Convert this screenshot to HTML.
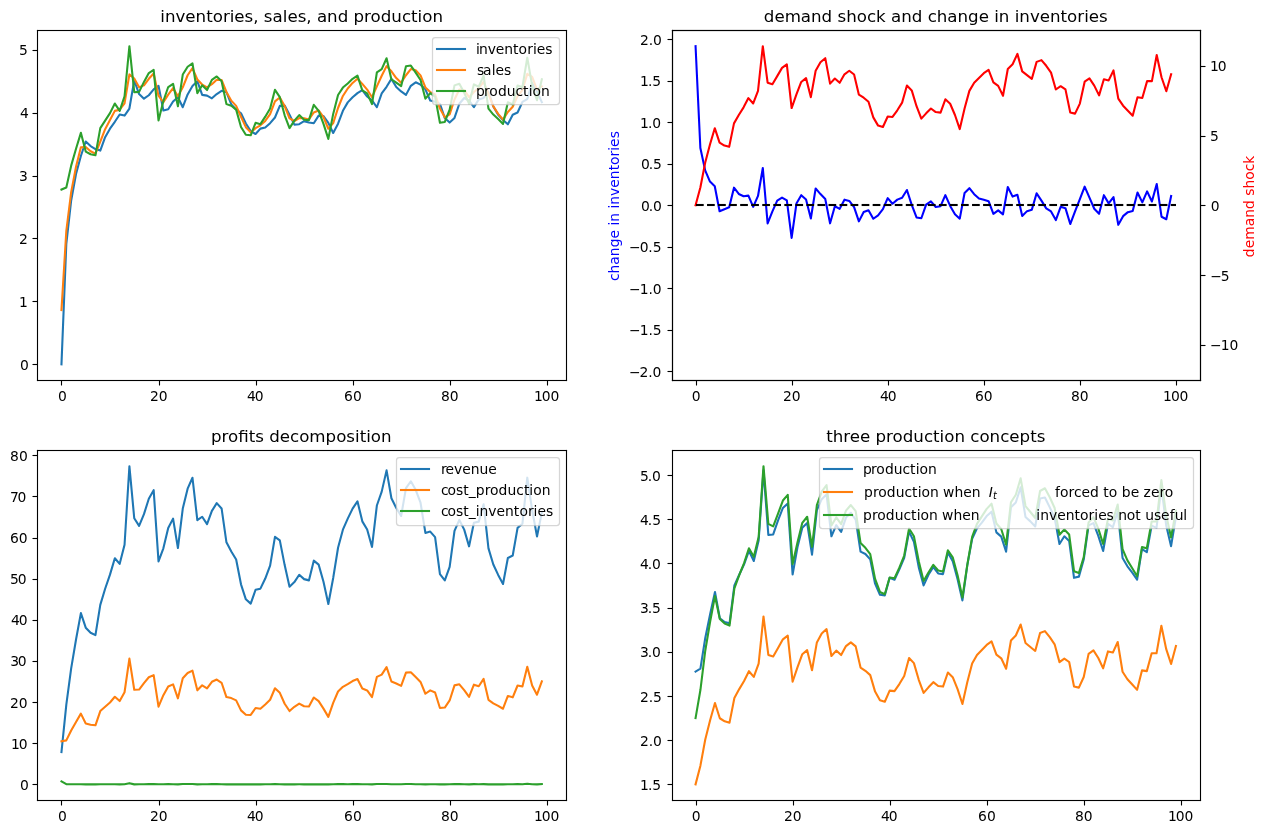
<!DOCTYPE html>
<html lang="en">
<head>
<meta charset="utf-8">
<title>inventories, sales, and production</title>
<style>
html,body{margin:0;padding:0;background:#fff;overflow:hidden}
svg{display:block}
text{font-family:"DejaVu Sans","Liberation Sans",sans-serif;white-space:pre}
.t10{font-size:13.889px}
.t12{font-size:16.667px}
.sr{fill:#000}
.tk{fill:none;stroke:#000;stroke-width:1.111;stroke-linecap:butt}
.ln{fill:none;stroke-width:2.083;stroke-linecap:square;stroke-linejoin:round}
.dr{fill:#000}
.lg{fill:#fff;stroke:#ccc;stroke-width:1.25;opacity:0.8;stroke-linejoin:miter}
</style>
</head>
<body>
<svg width="1268" height="834" viewBox="0 0 1268 834">
<defs><clipPath id="c0"><rect x="37.45" y="30.28" width="528.41" height="350"/></clipPath><clipPath id="c1"><rect x="671.54" y="30.28" width="528.41" height="350"/></clipPath><clipPath id="c2"><rect x="37.45" y="450.28" width="528.41" height="350"/></clipPath><clipPath id="c3"><rect x="671.54" y="450.28" width="528.41" height="350"/></clipPath></defs>
<rect width="1268" height="834" fill="#fff"/>
<path class="tk" d="M61.5 380.5 V385.5"/>
<text class="t10" x="57.9" y="401">0</text>
<path class="tk" d="M159.5 380.5 V385.5"/>
<text class="t10" x="150.07 158.68" y="401">20</text>
<path class="tk" d="M256.5 380.5 V385.5"/>
<text class="t10" x="246.93 254.74" y="401">40</text>
<path class="tk" d="M353.5 380.5 V385.5"/>
<text class="t10" x="344.09 352.9" y="401">60</text>
<path class="tk" d="M450.5 380.5 V385.5"/>
<text class="t10" x="441.06 449.87" y="401">80</text>
<path class="tk" d="M547.5 380.5 V385.5"/>
<text class="t10" x="533.98 541.79 550.58" y="401">100</text>
<path class="tk" d="M37.5 364.5 H32.5"/>
<text class="t10" x="19.99" y="370">0</text>
<path class="tk" d="M37.5 301.5 H32.5"/>
<text class="t10" x="19.02" y="307">1</text>
<path class="tk" d="M37.5 238.5 H32.5"/>
<text class="t10" x="18.99" y="244">2</text>
<path class="tk" d="M37.5 176.5 H32.5"/>
<text class="t10" x="19.04" y="181">3</text>
<path class="tk" d="M37.5 113.5 H32.5"/>
<text class="t10" x="19.91" y="118">4</text>
<path class="tk" d="M37.5 50.5 H32.5"/>
<text class="t10" x="19.09" y="55">5</text>
<path class="ln" stroke="#1f77b4" clip-path="url(#c0)" d="M61.47 364.37 L66.32 243.82 L71.17 200.45 L76.03 173.99 L80.88 156.01 L85.73 141.53 L90.58 146.07 L95.43 149.03 L100.29 150.58 L105.14 137.22 L109.99 128.64 L114.84 121.79 L119.7 114.46 L124.55 115.61 L129.4 108.54 L134.25 80.33 L139.1 94.06 L143.96 98.71 L148.81 95.23 L153.66 89.44 L158.51 85.76 L163.37 110.47 L168.22 109.19 L173.07 101.54 L177.92 97.19 L182.77 107.2 L187.63 94.43 L192.48 85.94 L197.33 81.19 L202.18 94.87 L207.04 95.61 L211.89 98.32 L216.74 94.05 L221.59 90.8 L226.44 92.16 L231.3 104.35 L236.15 109.48 L241 113.27 L245.85 123.49 L250.71 131.12 L255.56 134.03 L260.41 128.63 L265.26 127.44 L270.11 123.18 L274.97 117.5 L279.82 105.9 L284.67 105.6 L289.52 114.83 L294.38 124.66 L299.23 124.22 L304.08 121.23 L308.93 122.55 L313.78 123.24 L318.64 115.59 L323.49 116.09 L328.34 122.87 L333.19 133 L338.05 123.72 L342.9 110.76 L347.75 102.38 L352.6 97.3 L357.46 93.12 L362.31 90.05 L367.16 96.55 L372.01 100.38 L376.86 107.25 L381.72 93.38 L386.57 86.8 L391.42 78.89 L396.27 87.02 L401.13 91.46 L405.98 94.88 L410.83 85.81 L415.68 82.31 L420.53 84.67 L425.39 89.34 L430.24 100.54 L435.09 101.68 L439.94 103.83 L444.8 118.04 L449.65 122.58 L454.5 117.91 L459.35 103.76 L464.2 97.96 L469.06 100.6 L473.91 107.07 L478.76 99.4 L483.61 97.96 L488.47 91.7 L493.32 106.52 L498.17 114.75 L503.02 119.96 L507.87 124.33 L512.73 114.7 L517.58 112.48 L522.43 101.95 L527.28 99.07 L532.14 82.9 L536.99 91.56 L541.84 102.13"/>
<path class="ln" stroke="#ff7f0e" clip-path="url(#c0)" d="M61.47 310.12 L66.32 230.89 L71.17 192.11 L76.03 166.72 L80.88 147.33 L85.73 147.03 L90.58 151.27 L95.43 153.67 L100.29 141.53 L105.14 129.19 L109.99 119.99 L114.84 110.88 L119.7 109.65 L124.55 103.33 L129.4 74.41 L134.25 78.45 L139.1 87.2 L143.96 85.38 L148.81 78.8 L153.66 73.49 L158.51 95.69 L163.37 102.31 L168.22 94.67 L173.07 88.13 L177.92 96.22 L182.77 87.32 L187.63 75.24 L192.48 68.06 L197.33 79.49 L202.18 84.53 L207.04 87.32 L211.89 84.15 L216.74 79.71 L221.59 79.97 L226.44 91.93 L231.3 100.65 L236.15 105.86 L241 116.72 L245.85 127.18 L250.71 132.35 L255.56 128.17 L260.41 125.33 L265.26 120.93 L270.11 114.2 L274.97 101.43 L279.82 97.47 L284.67 106.1 L289.52 118.32 L294.38 121.03 L299.23 118.06 L304.08 118.36 L308.93 119.43 L313.78 112.41 L318.64 110.46 L323.49 117.03 L328.34 128.76 L333.19 123.19 L338.05 108 L342.9 95.96 L347.75 88.5 L352.6 82.94 L357.46 78.71 L362.31 83.89 L367.16 89.57 L372.01 97.28 L376.86 86.34 L381.72 75.72 L386.57 66.15 L391.42 71.33 L396.27 78.11 L401.13 82.76 L405.98 75.26 L410.83 69.07 L415.68 70.2 L420.53 75.36 L425.39 87.43 L430.24 92.06 L435.09 94.46 L439.94 108.58 L444.8 117.37 L449.65 114.4 L454.5 99.54 L459.35 89.57 L464.2 90.22 L469.06 97.17 L473.91 91.97 L478.76 88.18 L483.61 81.81 L488.47 93.84 L493.32 106.32 L498.17 113.85 L503.02 119.64 L507.87 111.92 L512.73 106.76 L517.58 96.1 L522.43 90.03 L527.28 73.83 L532.14 76.9 L536.99 89.64 L541.84 86.34"/>
<path class="ln" stroke="#2ca02c" clip-path="url(#c0)" d="M61.47 189.57 L66.32 187.51 L71.17 165.65 L76.03 148.74 L80.88 132.86 L85.73 151.57 L90.58 154.23 L95.43 155.22 L100.29 128.17 L105.14 120.61 L109.99 113.13 L114.84 103.55 L119.7 110.8 L124.55 96.26 L129.4 46.19 L134.25 92.18 L139.1 91.86 L143.96 81.9 L148.81 73.01 L153.66 69.81 L158.51 120.41 L163.37 101.03 L168.22 87.02 L173.07 83.78 L177.92 106.23 L182.77 74.55 L187.63 66.74 L192.48 63.32 L197.33 93.16 L202.18 85.27 L207.04 90.03 L211.89 79.88 L216.74 76.46 L221.59 81.34 L226.44 104.12 L231.3 105.79 L236.15 109.64 L241 126.94 L245.85 134.82 L250.71 135.26 L255.56 122.77 L260.41 124.14 L265.26 116.66 L270.11 108.53 L274.97 89.83 L279.82 97.17 L284.67 115.33 L289.52 128.14 L294.38 120.6 L299.23 115.07 L304.08 119.68 L308.93 120.12 L313.78 104.77 L318.64 110.95 L323.49 123.81 L328.34 138.9 L333.19 113.91 L338.05 95.04 L342.9 87.58 L347.75 83.42 L352.6 78.76 L357.46 75.64 L362.31 90.39 L367.16 93.4 L372.01 104.15 L376.86 72.47 L381.72 69.13 L386.57 58.24 L391.42 79.46 L396.27 82.55 L401.13 86.19 L405.98 66.19 L410.83 65.57 L415.68 72.56 L420.53 80.03 L425.39 98.64 L430.24 93.19 L435.09 96.61 L439.94 122.78 L444.8 121.91 L449.65 109.74 L454.5 85.38 L459.35 83.77 L464.2 92.86 L469.06 103.64 L473.91 84.31 L478.76 86.74 L483.61 75.55 L488.47 108.65 L493.32 114.56 L498.17 119.06 L503.02 124.02 L507.87 102.29 L512.73 104.54 L517.58 85.56 L522.43 87.15 L527.28 57.66 L532.14 85.56 L536.99 100.22 L541.84 79.3"/>
<rect class="sr" x="36.944" y="29.945" width="1.111" height="351.111"/>
<rect class="sr" x="565.944" y="29.945" width="1.111" height="351.111"/>
<rect class="sr" x="36.944" y="379.945" width="530.111" height="1.111"/>
<rect class="sr" x="36.944" y="29.945" width="530.111" height="1.111"/>
<text class="t12" x="301.65" y="22" text-anchor="middle">inventories, sales, and production</text>
<rect class="lg" x="432.5" y="37.5" width="127" height="67" rx="2.78"/>
<rect fill="#1f77b4" x="435.958" y="47.958" width="30.084" height="2.083"/>
<rect fill="#ff7f0e" x="435.958" y="68.958" width="30.084" height="2.083"/>
<rect fill="#2ca02c" x="435.958" y="89.958" width="30.084" height="2.083"/>
<text class="t10" x="476 479 487.68 495.86 504.35 513.07 518.62 527.19 532.97 536.75 545.28" y="54">inventories</text>
<text class="t10" x="476.96 483.1 491.72 495.58 504.03" y="75">sales</text>
<text class="t10" x="476 484.12 489.32 497.89 506.7 515.5 523.12 528.68 532.46 541.1" y="96">production</text>
<path class="tk" d="M696.5 380.5 V385.5"/>
<text class="t10" x="691.84" y="401">0</text>
<path class="tk" d="M792.5 380.5 V385.5"/>
<text class="t10" x="783.06 791.67" y="401">20</text>
<path class="tk" d="M888.5 380.5 V385.5"/>
<text class="t10" x="880.04 887.65" y="401">40</text>
<path class="tk" d="M984.5 380.5 V385.5"/>
<text class="t10" x="975.01 983.82" y="401">60</text>
<path class="tk" d="M1080.5 380.5 V385.5"/>
<text class="t10" x="1071.12 1079.77" y="401">80</text>
<path class="tk" d="M1176.5 380.5 V385.5"/>
<text class="t10" x="1163.02 1170.91 1179.62" y="401">100</text>
<path class="tk" d="M672.5 371.5 H667.5"/>
<text class="t10" x="629.05 639.55 648.34 652.59" y="377">−2.0</text>
<path class="tk" d="M672.5 330.5 H667.5"/>
<text class="t10" x="629.06 639.64 648.55 652.8" y="335">−1.5</text>
<path class="tk" d="M672.5 288.5 H667.5"/>
<text class="t10" x="629.02 639.68 648.55 652.76" y="294">−1.0</text>
<path class="tk" d="M672.5 247.5 H667.5"/>
<text class="t10" x="629.04 639.66 648.37 652.74" y="252">−0.5</text>
<path class="tk" d="M672.5 205.5 H667.5"/>
<text class="t10" x="640.93 648.74 653.01" y="211">0.0</text>
<path class="tk" d="M672.5 164.5 H667.5"/>
<text class="t10" x="640.93 648.74 653.05" y="169">0.5</text>
<path class="tk" d="M672.5 122.5 H667.5"/>
<text class="t10" x="640.07 647.92 652.15" y="128">1.0</text>
<path class="tk" d="M672.5 81.5 H667.5"/>
<text class="t10" x="640.05 647.9 652.29" y="86">1.5</text>
<path class="tk" d="M672.5 39.5 H667.5"/>
<text class="t10" x="640.1 648.71 653.02" y="45">2.0</text>
<text class="t10" x="619" y="206.09" text-anchor="middle" fill="#0000ff" transform="rotate(-90 619 206.09)">change in inventories</text>
<path class="ln" stroke="#0000ff" clip-path="url(#c1)" d="M695.56 46.19 L700.36 148.03 L705.17 170.36 L709.97 181.55 L714.77 186.18 L719.58 211.26 L724.38 209.19 L729.19 207.32 L733.99 187.65 L738.79 193.96 L743.6 196.23 L748.4 195.61 L753.2 206.8 L758.01 195.95 L762.81 168.04 L767.62 223.4 L772.42 211.43 L777.22 200.68 L782.03 197.64 L786.83 200.43 L791.63 237.89 L796.44 203.59 L801.24 195.18 L806.04 199.54 L810.85 218.49 L815.65 188.43 L820.46 194.07 L825.26 199.02 L830.06 223.33 L834.87 206.26 L839.67 208.85 L844.47 199.65 L849.28 200.98 L854.08 207.08 L858.89 221.36 L863.69 212.06 L868.49 210.27 L873.3 218.77 L878.1 215.36 L882.9 209.12 L887.71 198.16 L892.51 203.71 L897.32 199.65 L902.12 197.79 L906.92 189.97 L911.73 204.88 L916.53 217.46 L921.33 218.25 L926.14 204.71 L930.94 201.34 L935.75 207.02 L940.55 206.19 L945.35 195.19 L950.16 205.93 L954.96 214.23 L959.76 218.66 L964.57 193.02 L969.37 188.18 L974.18 194.22 L978.98 198.57 L983.78 199.77 L988.59 201.23 L993.39 213.86 L998.19 210.33 L1003 214.35 L1007.8 186.97 L1012.6 196.59 L1017.41 194.84 L1022.21 216.01 L1027.02 211.14 L1031.82 209.8 L1036.62 193.31 L1041.43 200.65 L1046.23 208.4 L1051.03 211.44 L1055.84 220.06 L1060.64 206.78 L1065.45 208.13 L1070.25 224.03 L1075.05 211.27 L1079.86 199.12 L1084.66 186.6 L1089.46 197.63 L1094.27 208.76 L1099.07 213.81 L1103.88 195.16 L1108.68 203.38 L1113.48 197.02 L1118.29 224.84 L1123.09 216.15 L1127.89 212.15 L1132.7 211.06 L1137.5 192.57 L1142.31 202.35 L1147.11 191.38 L1151.91 201.48 L1156.72 183.94 L1161.52 216.71 L1166.32 219.23 L1171.13 196"/>
<rect class="sr" x="671.944" y="29.945" width="1.111" height="351.111"/>
<rect class="sr" x="1199.945" y="29.945" width="1.111" height="351.111"/>
<rect class="sr" x="671.944" y="379.945" width="529.111" height="1.111"/>
<rect class="sr" x="671.944" y="29.945" width="529.111" height="1.111"/>
<text class="t12" x="935.75" y="22" text-anchor="middle">demand shock and change in inventories</text>
<path class="tk" d="M61.5 800.5 V805.5"/>
<text class="t10" x="57.9" y="821">0</text>
<path class="tk" d="M159.5 800.5 V805.5"/>
<text class="t10" x="150.07 158.68" y="821">20</text>
<path class="tk" d="M256.5 800.5 V805.5"/>
<text class="t10" x="246.93 254.74" y="821">40</text>
<path class="tk" d="M353.5 800.5 V805.5"/>
<text class="t10" x="344.09 352.9" y="821">60</text>
<path class="tk" d="M450.5 800.5 V805.5"/>
<text class="t10" x="441.06 449.87" y="821">80</text>
<path class="tk" d="M547.5 800.5 V805.5"/>
<text class="t10" x="533.98 541.79 550.58" y="821">100</text>
<path class="tk" d="M37.5 784.5 H32.5"/>
<text class="t10" x="19.99" y="790">0</text>
<path class="tk" d="M37.5 743.5 H32.5"/>
<text class="t10" x="10.99 18.77" y="749">10</text>
<path class="tk" d="M37.5 702.5 H32.5"/>
<text class="t10" x="10.07 18.69" y="708">20</text>
<path class="tk" d="M37.5 661.5 H32.5"/>
<text class="t10" x="10.15 17.69" y="666">30</text>
<path class="tk" d="M37.5 620.5 H32.5"/>
<text class="t10" x="10.9 18.72" y="625">40</text>
<path class="tk" d="M37.5 579.5 H32.5"/>
<text class="t10" x="9.91 17.73" y="584">50</text>
<path class="tk" d="M37.5 538.5 H32.5"/>
<text class="t10" x="10.01 18.83" y="543">60</text>
<path class="tk" d="M37.5 496.5 H32.5"/>
<text class="t10" x="9.97 17.59" y="502">70</text>
<path class="tk" d="M37.5 455.5 H32.5"/>
<text class="t10" x="10.06 18.88" y="461">80</text>
<path class="ln" stroke="#1f77b4" clip-path="url(#c2)" d="M61.47 751.99 L66.32 704.59 L71.17 668.32 L76.03 639.5 L80.88 613.14 L85.73 627.67 L90.58 632.71 L95.43 635.13 L100.29 604.88 L105.14 588.73 L109.99 574.63 L114.84 558.2 L119.7 563.84 L124.55 544.73 L129.4 466.19 L134.25 518.25 L139.1 525.87 L143.96 514.13 L148.81 498.7 L153.66 490.14 L158.51 561.43 L163.37 548.35 L168.22 527.93 L173.07 518.62 L177.92 548.06 L182.77 508.57 L187.63 488.65 L192.48 477.8 L197.33 520.21 L202.18 516.75 L207.04 524.14 L211.89 510.91 L216.74 503.15 L221.59 508.44 L226.44 542.29 L231.3 551.44 L236.15 559.54 L241 584.32 L245.85 599.34 L250.71 603.64 L255.56 589.76 L260.41 588.67 L265.26 578.54 L270.11 565.62 L274.97 536.89 L279.82 540.36 L284.67 565.09 L289.52 586.65 L294.38 582.1 L299.23 574.76 L304.08 579.12 L308.93 580.38 L313.78 560.65 L318.64 564.65 L323.49 581.74 L328.34 604.03 L333.19 578 L338.05 547.77 L342.9 529.67 L347.75 518.6 L352.6 508.61 L357.46 501.34 L362.31 521.36 L367.16 529.56 L372.01 546.96 L376.86 505.52 L381.72 491.63 L386.57 470.38 L391.42 498.28 L396.27 507.94 L401.13 516.03 L405.98 488.1 L410.83 481.24 L415.68 489.84 L420.53 502.71 L425.39 532.89 L430.24 531.61 L435.09 537.13 L439.94 574.05 L444.8 580.32 L449.65 566.88 L454.5 530.87 L459.35 519.95 L464.2 529.62 L469.06 546.37 L473.91 522.74 L478.76 521.63 L483.61 504.24 L488.47 548.4 L493.32 564.54 L498.17 574.89 L503.02 584.02 L507.87 557.95 L512.73 555.55 L517.58 527.84 L522.43 523.76 L527.28 477.67 L532.14 509.95 L536.99 536.42 L541.84 512.42"/>
<path class="ln" stroke="#ff7f0e" clip-path="url(#c2)" d="M61.47 741.25 L66.32 740.36 L71.17 730.42 L76.03 722.04 L80.88 713.64 L85.73 723.48 L90.58 724.83 L95.43 725.32 L100.29 711.06 L105.14 706.8 L109.99 702.46 L114.84 696.75 L119.7 701.09 L124.55 692.27 L129.4 658.54 L134.25 689.72 L139.1 689.52 L143.96 683.13 L148.81 677.25 L153.66 675.1 L158.51 706.68 L163.37 695.21 L168.22 686.44 L173.07 684.35 L177.92 698.37 L182.77 678.29 L187.63 673.02 L192.48 670.66 L197.33 690.34 L202.18 685.32 L207.04 688.36 L211.89 681.81 L216.74 679.55 L221.59 682.76 L226.44 697.09 L231.3 698.1 L236.15 700.4 L241 710.37 L245.85 714.7 L250.71 714.94 L255.56 708.02 L260.41 708.8 L265.26 704.52 L270.11 699.74 L274.97 688.23 L279.82 692.84 L284.67 703.75 L289.52 711.04 L294.38 706.79 L299.23 703.6 L304.08 706.26 L308.93 706.51 L313.78 697.49 L318.64 701.18 L323.49 708.61 L328.34 716.9 L333.19 702.92 L338.05 691.51 L342.9 686.8 L347.75 684.12 L352.6 681.07 L357.46 679.01 L362.31 688.59 L367.16 690.48 L372.01 697.11 L376.86 676.89 L381.72 674.65 L386.57 667.13 L391.42 681.54 L396.27 683.55 L401.13 685.9 L405.98 672.64 L410.83 672.21 L415.68 676.96 L420.53 681.91 L425.39 693.74 L430.24 690.36 L435.09 692.49 L439.94 708.03 L444.8 707.54 L449.65 700.46 L454.5 685.39 L459.35 684.34 L464.2 690.15 L469.06 696.8 L473.91 684.69 L478.76 686.26 L483.61 678.95 L488.47 699.82 L493.32 703.3 L498.17 705.91 L503.02 708.73 L507.87 695.98 L512.73 697.35 L517.58 685.5 L522.43 686.53 L527.28 666.73 L532.14 685.5 L536.99 694.72 L541.84 681.43"/>
<path class="ln" stroke="#2ca02c" clip-path="url(#c2)" d="M61.47 781.32 L66.32 784.2 L71.17 784.3 L76.03 784.32 L80.88 784.29 L85.73 784.34 L90.58 784.34 L95.43 784.35 L100.29 784.29 L105.14 784.3 L109.99 784.29 L114.84 784.25 L119.7 784.35 L124.55 784.21 L129.4 783.16 L134.25 784.37 L139.1 784.32 L143.96 784.19 L148.81 784.09 L153.66 784.11 L158.51 784.27 L163.37 784.3 L168.22 784.15 L173.07 784.18 L177.92 784.37 L182.77 783.96 L187.63 783.99 L192.48 784.04 L197.33 784.37 L202.18 784.26 L207.04 784.3 L211.89 784.16 L216.74 784.16 L221.59 784.25 L226.44 784.37 L231.3 784.36 L236.15 784.36 L241 784.36 L245.85 784.36 L250.71 784.37 L255.56 784.34 L260.41 784.36 L265.26 784.33 L270.11 784.29 L274.97 784.1 L279.82 784.3 L284.67 784.37 L289.52 784.36 L294.38 784.36 L299.23 784.33 L304.08 784.36 L308.93 784.36 L313.78 784.25 L318.64 784.34 L323.49 784.37 L328.34 784.34 L333.19 784.27 L338.05 784.11 L342.9 784.14 L347.75 784.17 L352.6 784.16 L357.46 784.16 L362.31 784.33 L367.16 784.32 L372.01 784.36 L376.86 783.92 L381.72 784.05 L386.57 783.93 L391.42 784.31 L396.27 784.29 L401.13 784.29 L405.98 783.97 L410.83 784.08 L415.68 784.22 L420.53 784.28 L425.39 784.37 L430.24 784.3 L435.09 784.32 L439.94 784.35 L444.8 784.37 L449.65 784.3 L454.5 784.02 L459.35 784.16 L464.2 784.31 L469.06 784.36 L473.91 784.14 L478.76 784.24 L483.61 784.1 L488.47 784.37 L493.32 784.37 L498.17 784.37 L503.02 784.37 L507.87 784.21 L512.73 784.31 L517.58 784.09 L522.43 784.22 L527.28 783.71 L532.14 784.33 L536.99 784.37 L541.84 784.11"/>
<rect class="sr" x="36.944" y="449.945" width="1.111" height="351.111"/>
<rect class="sr" x="565.944" y="449.945" width="1.111" height="351.111"/>
<rect class="sr" x="36.944" y="799.944" width="530.111" height="1.111"/>
<rect class="sr" x="36.944" y="449.945" width="530.111" height="1.111"/>
<text class="t12" x="301.25" y="442" text-anchor="middle">profits decomposition</text>
<rect class="lg" x="396.5" y="457.5" width="163" height="68" rx="2.78"/>
<rect fill="#1f77b4" x="399.958" y="467.958" width="30.084" height="2.083"/>
<rect fill="#ff7f0e" x="399.958" y="488.958" width="30.084" height="2.083"/>
<rect fill="#2ca02c" x="399.958" y="509.958" width="30.084" height="2.083"/>
<text class="t10" x="441 445.59 454.12 462.34 470.87 479.39 488.27" y="474">revenue</text>
<text class="t10" x="440.96 447.55 456.03 463.34 468.74 475.72 484.69 490.08 498.57 507.38 516.18 523.92 529.36 533.18 541.74" y="495">cost_production</text>
<text class="t10" x="440.96 447.55 456.03 463.34 468.74 475.72 479.42 488.36 496.58 505.11 513.87 519.38 527.95 533.55 537.43 545.94" y="516">cost_inventories</text>
<path class="tk" d="M696.5 800.5 V805.5"/>
<text class="t10" x="691.84" y="821">0</text>
<path class="tk" d="M793.5 800.5 V805.5"/>
<text class="t10" x="784.03 792.68" y="821">20</text>
<path class="tk" d="M890.5 800.5 V805.5"/>
<text class="t10" x="880.9 888.71" y="821">40</text>
<path class="tk" d="M987.5 800.5 V805.5"/>
<text class="t10" x="978.07 986.88" y="821">60</text>
<path class="tk" d="M1084.5 800.5 V805.5"/>
<text class="t10" x="1075.01 1083.82" y="821">80</text>
<path class="tk" d="M1181.5 800.5 V805.5"/>
<text class="t10" x="1167.98 1175.79 1184.58" y="821">100</text>
<path class="tk" d="M672.5 784.5 H667.5"/>
<text class="t10" x="640.05 647.9 652.29" y="790">1.5</text>
<path class="tk" d="M672.5 740.5 H667.5"/>
<text class="t10" x="640.1 648.71 653.02" y="746">2.0</text>
<path class="tk" d="M672.5 696.5 H667.5"/>
<text class="t10" x="640.03 648.84 653.07" y="702">2.5</text>
<path class="tk" d="M672.5 652.5 H667.5"/>
<text class="t10" x="640.1 647.79 652.06" y="657">3.0</text>
<path class="tk" d="M672.5 608.5 H667.5"/>
<text class="t10" x="640.01 647.7 652.09" y="613">3.5</text>
<path class="tk" d="M672.5 563.5 H667.5"/>
<text class="t10" x="640.02 647.83 652.06" y="569">4.0</text>
<path class="tk" d="M672.5 519.5 H667.5"/>
<text class="t10" x="639.89 647.7 652.13" y="525">4.5</text>
<path class="tk" d="M672.5 475.5 H667.5"/>
<text class="t10" x="640 647.85 652.08" y="481">5.0</text>
<path class="ln" stroke="#1f77b4" clip-path="url(#c3)" d="M695.56 671.58 L700.41 668.69 L705.26 638.01 L710.12 614.27 L714.97 591.99 L719.82 618.24 L724.67 621.98 L729.53 623.37 L734.38 585.41 L739.23 574.8 L744.08 564.3 L748.93 550.85 L753.79 561.03 L758.64 540.62 L763.49 470.35 L768.34 534.89 L773.2 534.44 L778.05 520.46 L782.9 507.98 L787.75 503.5 L792.6 574.51 L797.46 547.31 L802.31 527.65 L807.16 523.11 L812.01 554.61 L816.87 510.15 L821.72 499.19 L826.57 494.38 L831.42 536.27 L836.27 525.2 L841.13 531.87 L845.98 517.63 L850.83 512.82 L855.68 519.67 L860.54 551.64 L865.39 553.99 L870.24 559.4 L875.09 583.68 L879.94 594.73 L884.8 595.36 L889.65 577.83 L894.5 579.75 L899.35 569.25 L904.21 557.84 L909.06 531.6 L913.91 541.9 L918.76 567.39 L923.61 585.37 L928.47 574.77 L933.32 567.02 L938.17 573.48 L943.02 574.1 L947.88 552.56 L952.73 561.24 L957.58 579.28 L962.43 600.47 L967.28 565.39 L972.14 538.91 L976.99 528.43 L981.84 522.6 L986.69 516.06 L991.55 511.68 L996.4 532.38 L1001.25 536.6 L1006.1 551.69 L1010.96 507.22 L1015.81 502.55 L1020.66 487.26 L1025.51 517.05 L1030.36 521.37 L1035.22 526.48 L1040.07 498.42 L1044.92 497.54 L1049.77 507.36 L1054.63 517.84 L1059.48 543.95 L1064.33 536.31 L1069.18 541.11 L1074.03 577.84 L1078.89 576.62 L1083.74 559.53 L1088.59 525.35 L1093.44 523.09 L1098.3 535.85 L1103.15 550.97 L1108 523.84 L1112.85 527.26 L1117.7 511.55 L1122.56 558.01 L1127.41 566.3 L1132.26 572.62 L1137.11 579.58 L1141.97 549.08 L1146.82 552.24 L1151.67 525.61 L1156.52 527.84 L1161.37 486.45 L1166.23 525.61 L1171.08 546.17 L1175.93 516.82"/>
<path class="ln" stroke="#ff7f0e" clip-path="url(#c3)" d="M695.56 784.37 L700.41 765.67 L705.26 739.46 L710.12 720.16 L714.97 703.01 L719.82 718.25 L724.67 721.34 L729.53 722.67 L734.38 697.93 L739.23 689.09 L744.08 680.99 L748.93 671.2 L753.79 676.87 L758.64 663.61 L763.49 616.43 L768.34 654.92 L773.2 656.54 L778.05 648 L782.9 639.31 L787.75 635.56 L792.6 681.73 L797.46 667.3 L802.31 654.19 L807.16 650.14 L812.01 670.24 L816.87 642.41 L821.72 633.42 L826.57 629.08 L831.42 655.96 L836.27 650.58 L841.13 655.07 L845.98 646.09 L850.83 642.33 L855.68 646.38 L860.54 667.59 L865.39 670.83 L870.24 675.1 L875.09 691.59 L879.94 700.28 L884.8 701.76 L889.65 690.64 L894.5 691.15 L899.35 684.08 L904.21 675.98 L909.06 657.94 L913.91 663.1 L918.76 679.81 L923.61 692.92 L928.47 687.32 L933.32 682.17 L938.17 686 L943.02 686.59 L947.88 672.52 L952.73 677.16 L957.58 689.09 L962.43 703.96 L967.28 682.32 L972.14 663.61 L976.99 654.92 L981.84 649.92 L986.69 644.91 L991.55 641.45 L996.4 654.63 L1001.25 658.31 L1006.1 668.77 L1010.96 640.49 L1015.81 635.49 L1020.66 624.51 L1025.51 643 L1030.36 646.97 L1035.22 650.95 L1040.07 632.98 L1044.92 631.14 L1049.77 637.11 L1054.63 644.32 L1059.48 662.14 L1064.33 658.68 L1069.18 661.99 L1074.03 686.44 L1078.89 687.62 L1083.74 677.01 L1088.59 653.89 L1093.44 650.43 L1098.3 658.02 L1103.15 668.33 L1108 651.39 L1112.85 652.57 L1117.7 642.04 L1122.56 671.71 L1127.41 679.22 L1132.26 684.53 L1137.11 689.83 L1141.97 670.39 L1146.82 671.12 L1151.67 653.31 L1156.52 653.31 L1161.37 625.69 L1166.23 649.18 L1171.08 663.91 L1175.93 646.09"/>
<path class="ln" stroke="#2ca02c" clip-path="url(#c3)" d="M695.56 718.1 L700.41 690.05 L705.26 650.73 L710.12 621.79 L714.97 596.06 L719.82 618.92 L724.67 623.56 L729.53 625.55 L734.38 588.43 L739.23 575.18 L744.08 563.03 L748.93 548.34 L753.79 556.85 L758.64 536.97 L763.49 466.19 L768.34 523.93 L773.2 526.36 L778.05 513.55 L782.9 500.52 L787.75 494.88 L792.6 564.14 L797.46 542.49 L802.31 522.83 L807.16 516.75 L812.01 546.91 L816.87 505.16 L821.72 491.68 L826.57 485.16 L831.42 525.48 L836.27 517.42 L841.13 524.15 L845.98 510.68 L850.83 505.05 L855.68 511.12 L860.54 542.93 L865.39 547.79 L870.24 554.2 L875.09 578.94 L879.94 591.97 L884.8 594.18 L889.65 577.5 L894.5 578.27 L899.35 567.67 L904.21 555.52 L909.06 528.46 L913.91 536.19 L918.76 561.26 L923.61 580.92 L928.47 572.53 L933.32 564.8 L938.17 570.54 L943.02 571.43 L947.88 550.33 L952.73 557.29 L957.58 575.18 L962.43 597.49 L967.28 565.02 L972.14 536.97 L976.99 523.93 L981.84 516.42 L986.69 508.91 L991.55 503.72 L996.4 523.49 L1001.25 529.01 L1006.1 544.7 L1010.96 502.28 L1015.81 494.77 L1020.66 478.32 L1025.51 506.04 L1030.36 512 L1035.22 517.97 L1040.07 491.02 L1044.92 488.26 L1049.77 497.2 L1054.63 508.03 L1059.48 534.76 L1064.33 529.57 L1069.18 534.54 L1074.03 571.2 L1078.89 572.97 L1083.74 557.07 L1088.59 522.39 L1093.44 517.19 L1098.3 528.57 L1103.15 544.03 L1108 518.63 L1112.85 520.4 L1117.7 504.6 L1122.56 549.11 L1127.41 560.38 L1132.26 568.33 L1137.11 576.29 L1141.97 547.13 L1146.82 548.23 L1151.67 521.5 L1156.52 521.5 L1161.37 480.08 L1166.23 515.32 L1171.08 537.41 L1175.93 510.68"/>
<rect class="sr" x="671.944" y="449.945" width="1.111" height="351.111"/>
<rect class="sr" x="1199.945" y="449.945" width="1.111" height="351.111"/>
<rect class="sr" x="671.944" y="799.944" width="529.111" height="1.111"/>
<rect class="sr" x="671.944" y="449.945" width="529.111" height="1.111"/>
<text class="t12" x="935.75" y="442" text-anchor="middle">three production concepts</text>
<rect class="lg" x="819.5" y="457.5" width="374" height="71" rx="2.78"/>
<rect fill="#1f77b4" x="822.958" y="467.958" width="30.084" height="2.083"/>
<rect fill="#ff7f0e" x="822.958" y="490.958" width="30.084" height="2.083"/>
<rect fill="#2ca02c" x="822.958" y="513.958" width="30.084" height="2.083"/>
<text class="t10" x="863 871.12 876.32 884.89 893.7 902.5 910.12 915.68 919.46 928.1" y="474">production</text>
<text class="t10" y="497" xml:space="preserve"><tspan x="864 872.92 878.36 886.85 895.66 904.5 912.08 917.64 921.46 929.9 938.5 943.07 954.41 963.21 971.74">production when</tspan><tspan> </tspan><tspan x="988.7" font-style="oblique">I</tspan><tspan x="993" y="499.3" font-size="9.72" font-style="oblique">t</tspan><tspan y="497"> </tspan><tspan x="1055 1059.88 1068.6 1073.93 1081.55 1090.1 1098.73 1103.3 1108.83 1117.08 1121.64 1130.66 1138.83 1143.59 1150.89 1159.38 1164.81" y="497">forced to be zero</tspan></text>
<text class="t10" x="863 871.92 877.36 885.85 894.66 903.5 911.08 916.64 920.46 928.9 937.5 942.07 953.41 962.21 970.74 979.38 983.78 988.2 992.61 997.02 1001.44 1005.84 1010.25 1014.66 1019.08 1023.48 1027.89 1032.3 1036.32 1040.36 1049.04 1057.18 1065.87 1074.55 1079.94 1088.59 1094.29 1098.19 1106.56 1114.16 1118.16 1126.8 1135.36 1141.3 1145.18 1153.9 1161.12 1169.83 1174.66 1183.3" y="520" xml:space="preserve">production when             inventories not useful</text>
<path class="tk" d="M1200.5 345.5 H1205.5"/>
<text class="t10" x="1210.02 1220.65 1229.43" y="350">−10</text>
<path class="tk" d="M1200.5 275.5 H1205.5"/>
<text class="t10" x="1210.16 1220.63" y="281">−5</text>
<path class="tk" d="M1200.5 205.5 H1205.5"/>
<text class="t10" x="1210.86" y="211">0</text>
<path class="tk" d="M1200.5 136.5 H1205.5"/>
<text class="t10" x="1210.02" y="141">5</text>
<path class="tk" d="M1200.5 66.5 H1205.5"/>
<text class="t10" x="1210.01 1217.78" y="71">10</text>
<text class="t10" x="1254" y="206.39" text-anchor="middle" fill="#ff0000" transform="rotate(-90 1254 206.39)">demand shock</text>
<path class="ln" stroke="#ff0000" clip-path="url(#c1)" d="M695.56 205.28 L700.36 187.56 L705.17 162.73 L709.97 144.46 L714.77 128.2 L719.58 142.64 L724.38 145.57 L729.19 146.83 L733.99 123.39 L738.79 115.02 L743.6 107.35 L748.4 98.07 L753.2 103.44 L758.01 90.89 L762.81 46.19 L767.62 82.66 L772.42 84.19 L777.22 76.1 L782.03 67.87 L786.83 64.31 L791.63 108.05 L796.44 94.37 L801.24 81.96 L806.04 78.12 L810.85 97.16 L815.65 70.8 L820.46 62.29 L825.26 58.17 L830.06 83.63 L834.87 78.54 L839.67 82.8 L844.47 74.29 L849.28 70.73 L854.08 74.56 L858.89 94.65 L863.69 97.72 L868.49 101.77 L873.3 117.39 L878.1 125.62 L882.9 127.02 L887.71 116.49 L892.51 116.97 L897.32 110.28 L902.12 102.61 L906.92 85.52 L911.73 90.4 L916.53 106.23 L921.33 118.65 L926.14 113.35 L930.94 108.46 L935.75 112.09 L940.55 112.65 L945.35 99.33 L950.16 103.72 L954.96 115.02 L959.76 129.11 L964.57 108.6 L969.37 90.89 L974.18 82.66 L978.98 77.91 L983.78 73.17 L988.59 69.89 L993.39 82.38 L998.19 85.86 L1003 95.77 L1007.8 68.98 L1012.6 64.24 L1017.41 53.85 L1022.21 71.36 L1027.02 75.12 L1031.82 78.89 L1036.62 61.87 L1041.43 60.13 L1046.23 65.78 L1051.03 72.61 L1055.84 89.49 L1060.64 86.21 L1065.45 89.35 L1070.25 112.51 L1075.05 113.63 L1079.86 103.58 L1084.66 81.68 L1089.46 78.4 L1094.27 85.59 L1099.07 95.35 L1103.88 79.31 L1108.68 80.42 L1113.48 70.45 L1118.29 98.56 L1123.09 105.67 L1127.89 110.7 L1132.7 115.72 L1137.5 97.3 L1142.31 98 L1147.11 81.12 L1151.91 81.12 L1156.72 54.96 L1161.52 77.22 L1166.32 91.17 L1171.13 74.29"/>
<g clip-path="url(#c1)"><rect class="dr" x="696" y="203.958" width="7.708" height="2.083"/><rect class="dr" x="707.042" y="203.958" width="7.708" height="2.083"/><rect class="dr" x="718.083" y="203.958" width="7.708" height="2.083"/><rect class="dr" x="729.125" y="203.958" width="7.708" height="2.083"/><rect class="dr" x="740.167" y="203.958" width="7.708" height="2.083"/><rect class="dr" x="751.208" y="203.958" width="7.708" height="2.083"/><rect class="dr" x="762.25" y="203.958" width="7.708" height="2.083"/><rect class="dr" x="773.292" y="203.958" width="7.708" height="2.083"/><rect class="dr" x="784.333" y="203.958" width="7.708" height="2.083"/><rect class="dr" x="795.375" y="203.958" width="7.708" height="2.083"/><rect class="dr" x="806.417" y="203.958" width="7.708" height="2.083"/><rect class="dr" x="817.458" y="203.958" width="7.708" height="2.083"/><rect class="dr" x="828.5" y="203.958" width="7.708" height="2.083"/><rect class="dr" x="839.542" y="203.958" width="7.708" height="2.083"/><rect class="dr" x="850.583" y="203.958" width="7.708" height="2.083"/><rect class="dr" x="861.625" y="203.958" width="7.708" height="2.083"/><rect class="dr" x="872.667" y="203.958" width="7.708" height="2.083"/><rect class="dr" x="883.708" y="203.958" width="7.708" height="2.083"/><rect class="dr" x="894.75" y="203.958" width="7.708" height="2.083"/><rect class="dr" x="905.792" y="203.958" width="7.708" height="2.083"/><rect class="dr" x="916.833" y="203.958" width="7.708" height="2.083"/><rect class="dr" x="927.875" y="203.958" width="7.708" height="2.083"/><rect class="dr" x="938.917" y="203.958" width="7.708" height="2.083"/><rect class="dr" x="949.958" y="203.958" width="7.708" height="2.083"/><rect class="dr" x="961" y="203.958" width="7.708" height="2.083"/><rect class="dr" x="972.042" y="203.958" width="7.708" height="2.083"/><rect class="dr" x="983.083" y="203.958" width="7.708" height="2.083"/><rect class="dr" x="994.125" y="203.958" width="7.708" height="2.083"/><rect class="dr" x="1005.167" y="203.958" width="7.708" height="2.083"/><rect class="dr" x="1016.208" y="203.958" width="7.708" height="2.083"/><rect class="dr" x="1027.25" y="203.958" width="7.708" height="2.083"/><rect class="dr" x="1038.292" y="203.958" width="7.708" height="2.083"/><rect class="dr" x="1049.333" y="203.958" width="7.708" height="2.083"/><rect class="dr" x="1060.375" y="203.958" width="7.708" height="2.083"/><rect class="dr" x="1071.417" y="203.958" width="7.708" height="2.083"/><rect class="dr" x="1082.458" y="203.958" width="7.708" height="2.083"/><rect class="dr" x="1093.5" y="203.958" width="7.708" height="2.083"/><rect class="dr" x="1104.542" y="203.958" width="7.708" height="2.083"/><rect class="dr" x="1115.583" y="203.958" width="7.708" height="2.083"/><rect class="dr" x="1126.625" y="203.958" width="7.708" height="2.083"/><rect class="dr" x="1137.667" y="203.958" width="7.708" height="2.083"/><rect class="dr" x="1148.708" y="203.958" width="7.708" height="2.083"/><rect class="dr" x="1159.75" y="203.958" width="7.708" height="2.083"/><rect class="dr" x="1170.792" y="203.958" width="5.208" height="2.083"/></g>
<rect class="sr" x="671.944" y="29.945" width="1.111" height="351.111"/>
<rect class="sr" x="1199.945" y="29.945" width="1.111" height="351.111"/>
<rect class="sr" x="671.944" y="379.945" width="529.111" height="1.111"/>
<rect class="sr" x="671.944" y="29.945" width="529.111" height="1.111"/>
</svg>
</body>
</html>
